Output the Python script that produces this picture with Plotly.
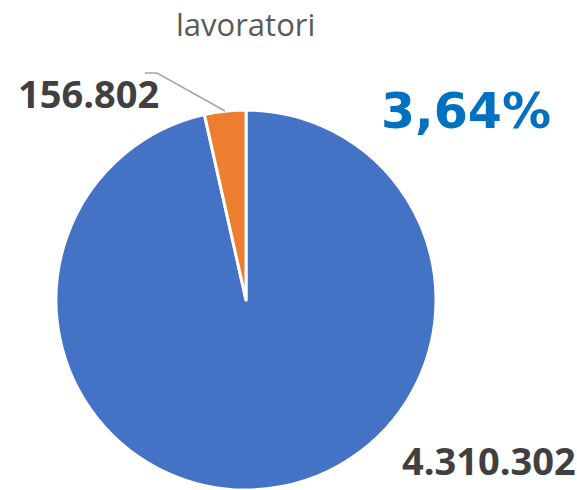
import plotly.graph_objects as go

W, H = 577, 490
labels = ["Altri lavoratori", "Lavoratori stranieri"]
values = [4310302, 156802]
value_text = ["4.310.302", "156.802"]
colors = ["#4472C4", "#ED7D31"]
title_text = "lavoratori"
pct_text = "3,64%"

def px(x):
    return x / W

def py(y):
    return 1 - y / H

fig = go.Figure(go.Pie(
    labels=labels, values=values, sort=False, direction="clockwise", rotation=0,
    marker=dict(colors=colors, line=dict(color="white", width=3)),
    textinfo="none", hoverinfo="label+value", showlegend=False,
    domain=dict(x=[px(56), px(436)], y=[py(490), py(110)]),
))

def ann(x, y, text, size, color, family="Open Sans"):
    fig.add_annotation(x=px(x), y=py(y), xref="paper", yref="paper", text=text,
                       xanchor="center", yanchor="middle", showarrow=False,
                       font=dict(family=family, size=size, color=color))

ann(245, 24, title_text, 31, "#595959")
ann(88, 93, "<b>" + value_text[1] + "</b>", 38, "#404040")
ann(489, 460, "<b>" + value_text[0] + "</b>", 38, "#404040")
ann(466, 112, "<b>" + pct_text + "</b>", 49, "#0070C0", "DejaVu Sans")

fig.add_shape(type="path", xref="paper", yref="paper",
              path=f"M {px(145)} {py(73)} L {px(157)} {py(73)} L {px(225)} {py(111)}",
              line=dict(color="#A6A6A6", width=1.5))

fig.update_layout(width=W, height=H, margin=dict(l=0, r=0, t=0, b=0),
                  paper_bgcolor="white", plot_bgcolor="white")
fig.write_html("out.html", config={"displayModeBar": False},
               post_script="document.body.style.margin='0';")
